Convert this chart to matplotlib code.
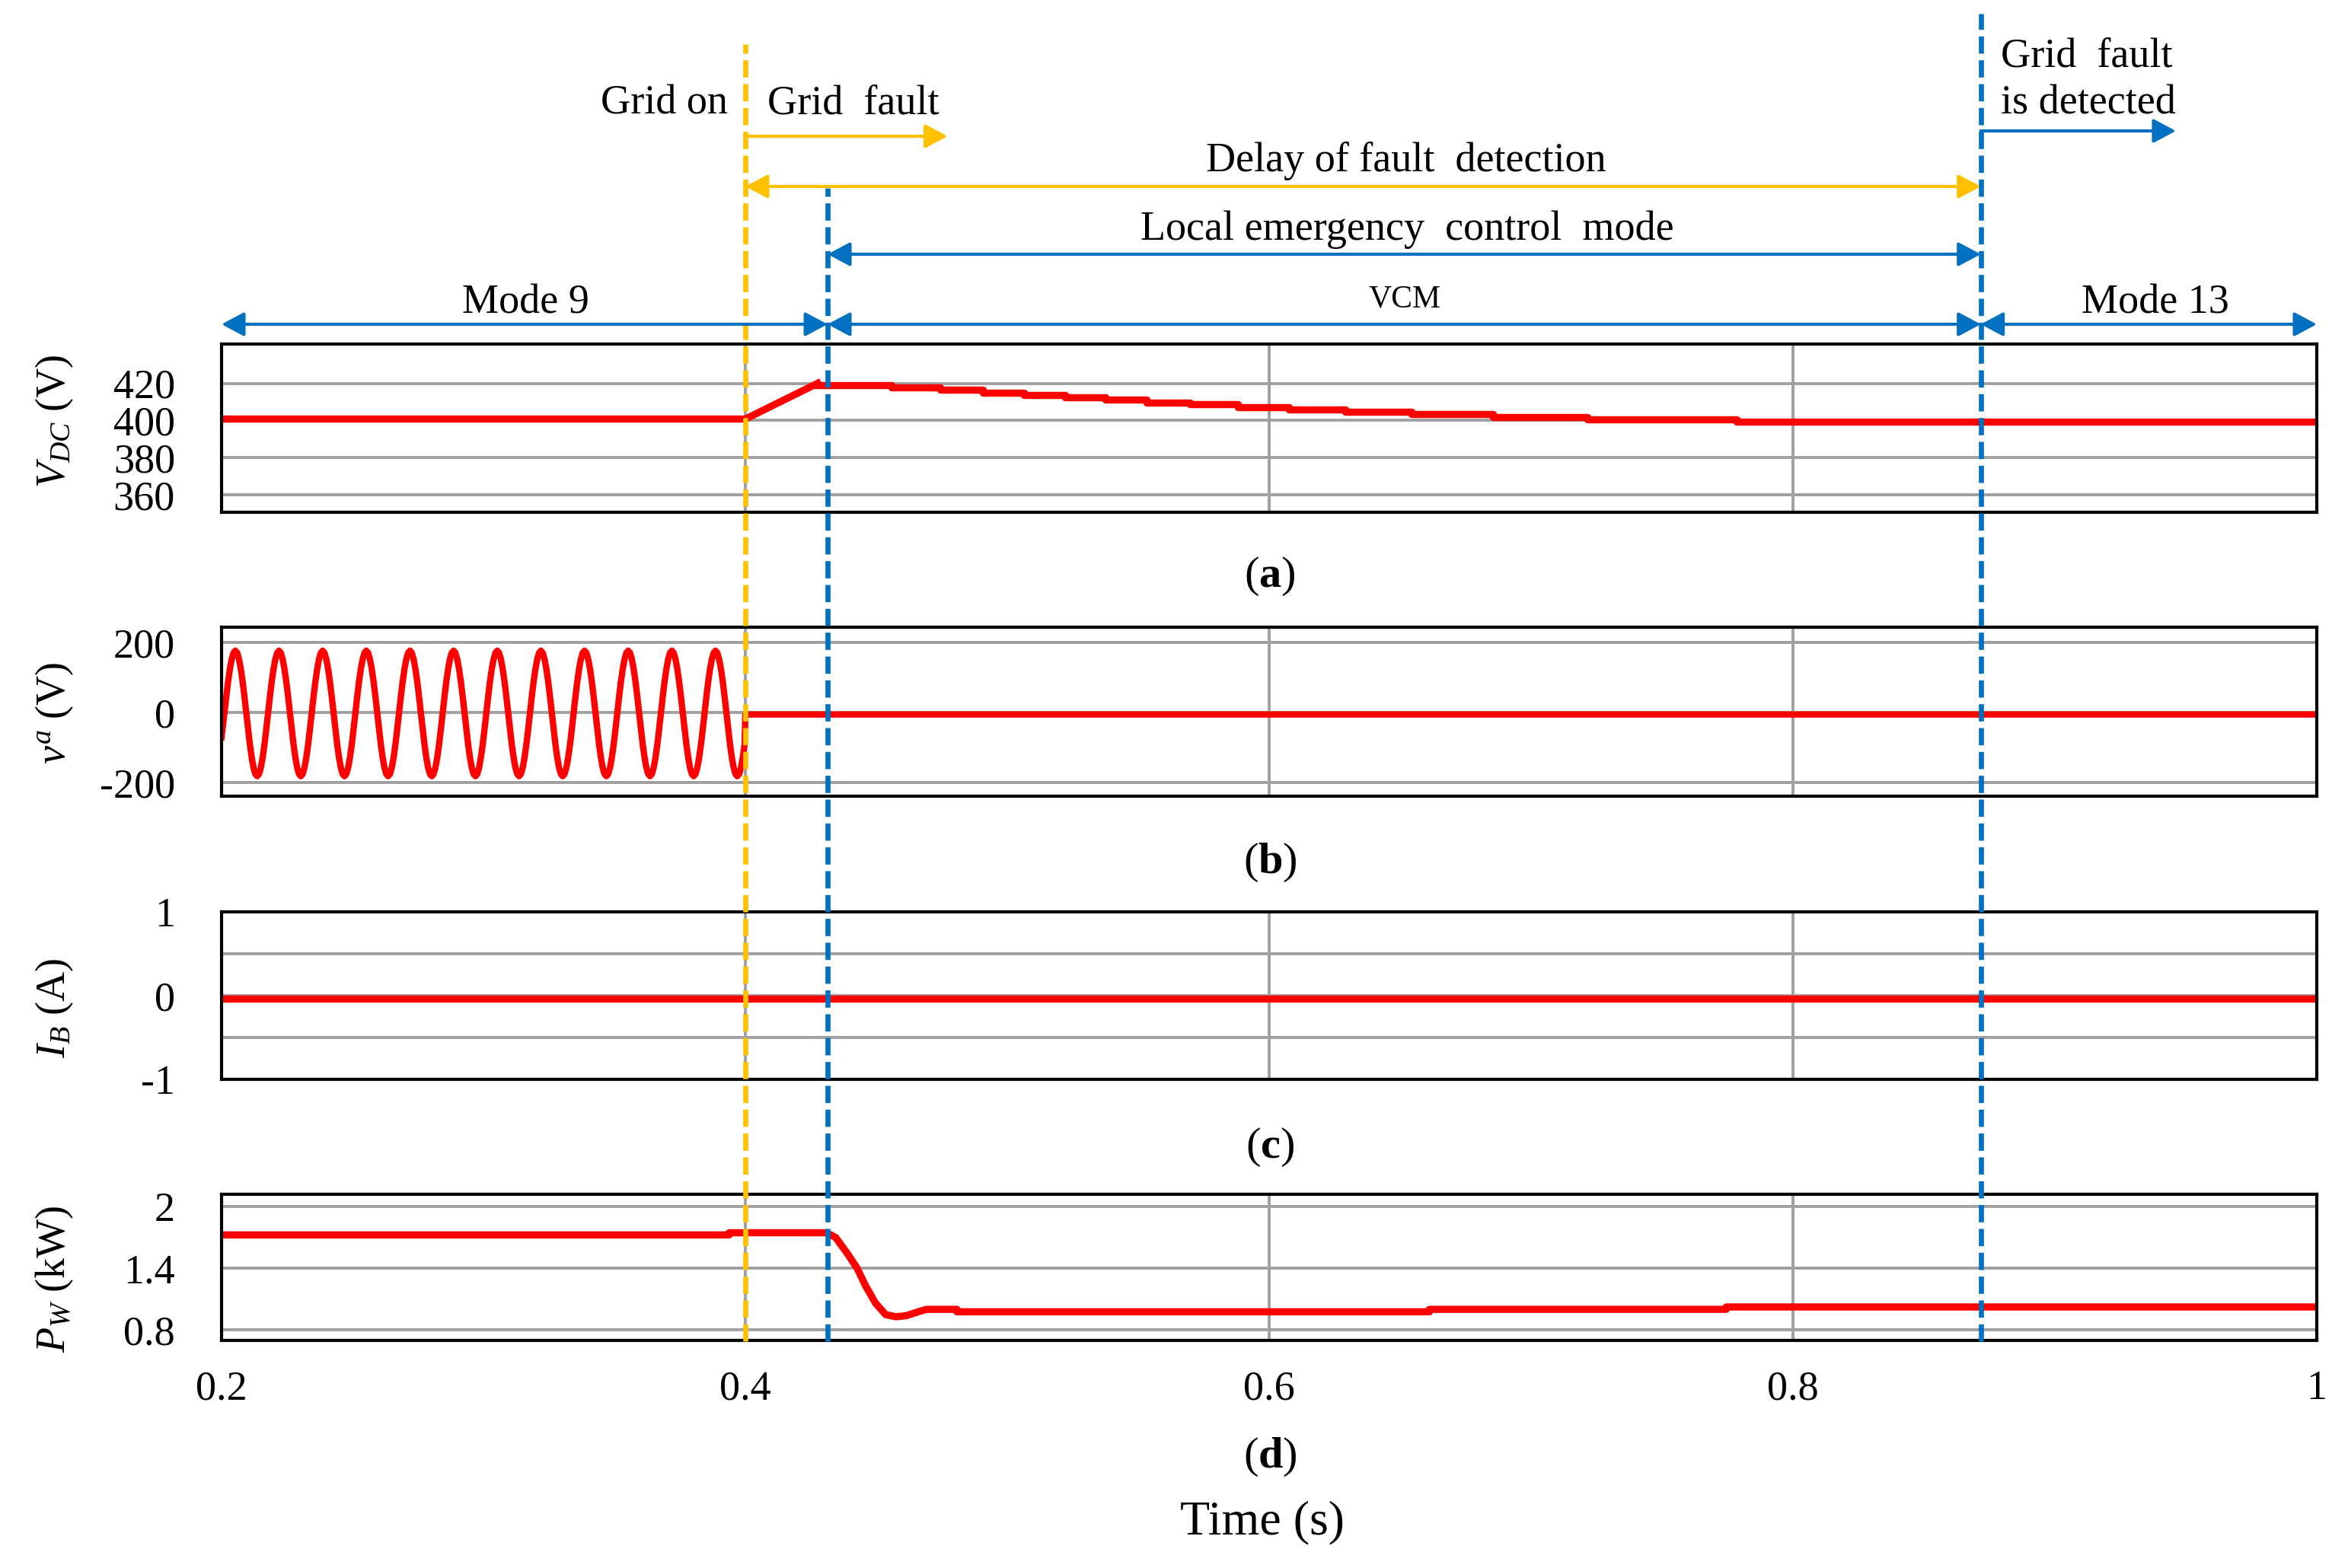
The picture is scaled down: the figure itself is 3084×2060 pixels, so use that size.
import numpy as np
import matplotlib
matplotlib.use("Agg")
import matplotlib.pyplot as plt

plt.rcParams["font.family"] = "Liberation Serif"
plt.rcParams["mathtext.fontset"] = "custom"
plt.rcParams["mathtext.rm"] = "Liberation Serif"
plt.rcParams["mathtext.it"] = "Liberation Serif:italic"
plt.rcParams["mathtext.bf"] = "Liberation Serif:bold"
plt.rcParams["axes.unicode_minus"] = False

# event times (s)
t_grid_fault = 0.4
t_local_mode = 0.4314
t_detected = 0.8717

# (a) DC-link voltage: ramp then staircase decay
vdc_ramp_t = [0.2, 0.4, 0.4276]
vdc_ramp_v = [400.8, 400.8, 420.0]
vdc_step_t = [0.4276, 0.4558, 0.4743, 0.4908, 0.5064, 0.5220, 0.5376, 0.5531,
              0.5697, 0.5882, 0.6077, 0.6291, 0.6544, 0.6855, 0.7214, 0.7784, 1.0]
vdc_step_v = [419.0, 417.7, 416.5, 415.1, 413.7, 412.5, 411.2, 409.8,
              408.6, 407.2, 406.0, 404.8, 403.4, 402.0, 400.7, 399.3, 399.3]

# (b) grid voltage: one 60 Hz cycle (15 deg steps), repeated
va_cycle = [0, 46, 89, 125, 153, 171, 177, 171, 153, 125, 89, 46,
            0, -47, -91, -128, -157, -175, -181, -175, -157, -128, -91, -47]
va_period = 1 / 60
va_start = 0.2011
va_cycles = 12
va_first_t, va_first_v = 0.2, -70
va_after_t = [0.4, 1.0]
va_after_v = [-5, -5]

# (c) battery current
ib_t = [0.2, 1.0]
ib_v = [-0.04, -0.04]

# (d) wind power
pw_t = [0.2, 0.3938, 0.3938, 0.431, 0.4345, 0.4393, 0.4427, 0.4458, 0.4497,
        0.4536, 0.4575, 0.4614, 0.4666, 0.4692, 0.4808, 0.4808, 0.6612, 0.6612,
        0.7745, 0.7745, 1.0]
pw_v = [1.725, 1.725, 1.746, 1.746, 1.70, 1.531, 1.40, 1.235, 1.062,
        0.95, 0.93, 0.94, 0.983, 1.002, 1.002, 0.978, 0.978, 1.002,
        1.002, 1.025, 1.025]

xticks = [0.2, 0.4, 0.6, 0.8, 1.0]
xticklabels = ["0.2", "0.4", "0.6", "0.8", "1"]

W, H = 3084, 2060
fig = plt.figure(figsize=(W / 200, H / 200), dpi=200)

left, right = 291 / W, 3043 / W
# panel top/bottom in pixels
boxes = [(452, 673), (824, 1046), (1198, 1418), (1569, 1761)]
axes = []
for top, bot in boxes:
    ax = fig.add_axes([left, 1 - bot / H, right - left, (bot - top) / H])
    axes.append(ax)

red = "#FF0000"
grid_c = "#A0A0A0"
fs = 19.5
lw_red = 3.4

for i, ax in enumerate(axes):
    ax.set_xlim(0.2, 1.0)
    ax.set_xticks(xticks)
    ax.grid(True, color=grid_c, lw=1.4, zorder=0)
    ax.set_axisbelow(True)
    for s in ax.spines.values():
        s.set_linewidth(1.5)
        s.set_color("black")
    ax.tick_params(length=0, labelsize=fs)
    ax.tick_params(axis="y", pad=22)
    ax.tick_params(axis="x", pad=14)
    if i < 3:
        ax.set_xticklabels([])
    else:
        ax.set_xticklabels(xticklabels)

# (a)
ax = axes[0]
ax.plot(vdc_ramp_t, vdc_ramp_v, color=red, lw=lw_red)
ax.step(vdc_step_t, vdc_step_v, where="post", color=red, lw=lw_red)
ax.set_ylim(350.7, 441.1)
ax.set_yticks([360, 380, 400, 420])

# (b)
ax = axes[1]
n = va_cycles * len(va_cycle) + 1
t_s = va_start + np.arange(n) * va_period / len(va_cycle)
v_s = np.array(va_cycle * va_cycles + [va_cycle[0]], dtype=float)
keep = t_s < va_after_t[0]
va_t = np.concatenate([[va_first_t], t_s[keep], va_after_t])
va_v = np.concatenate([[va_first_v], v_s[keep], va_after_v])
ax.plot(va_t, va_v, color=red, lw=3.0)
ax.set_ylim(-238, 244)
ax.set_yticks([-200, 0, 200])

# (c)
ax = axes[2]
ax.plot(ib_t, ib_v, color=red, lw=lw_red)
ax.set_ylim(-1, 1)
ax.set_yticks([-1, -0.5, 0, 0.5, 1])
ax.set_yticklabels(["-1", "", "0", "", "1"])

# (d)
ax = axes[3]
ax.plot(pw_t, pw_v, color=red, lw=lw_red)
ax.set_ylim(0.70, 2.12)
ax.set_yticks([0.8, 1.4, 2.0])
ax.set_yticklabels(["0.8", "1.4", "2"])

# y labels
ylabels = [r"$V_{DC}$ (V)", r"$v^{a}$ (V)", r"$I_{B}$ (A)", r"$P_{W}$ (kW)"]
ylab_y = [553, 937, 1325, 1680]
for lab, yy in zip(ylabels, ylab_y):
    fig.text(72 / W, 1 - yy / H, lab, rotation=90, ha="center", va="center", fontsize=fs)

# panel captions
for lab, yy in zip("abcd", [757, 1133, 1507, 1914]):
    fig.text(1668 / W, 1 - yy / H, "(" + r"$\mathbf{" + lab + "}$" + ")",
             ha="center", va="center", fontsize=21)
fig.text(1658 / W, 1 - 2000 / H, "Time (s)", ha="center", va="center", fontsize=23)

# overlay for event lines and annotations
ov = fig.add_axes([left, 0, right - left, 1], zorder=10)
ov.set_xlim(0.2, 1.0)
ov.set_ylim(0, 1)
ov.axis("off")
ov.patch.set_alpha(0)

yellow = "#FFC000"
blue = "#0070C0"
y_bot = 1 - 1762 / H

ov.plot([t_grid_fault, t_grid_fault], [y_bot, 1 - 58 / H], color=yellow, lw=2.4,
        dashes=(3.4, 1.3))
ov.plot([t_local_mode, t_local_mode], [y_bot, 1 - 247 / H], color=blue, lw=2.4,
        dashes=(3.4, 1.3))
ov.plot([t_detected, t_detected], [y_bot, 1 - 18 / H], color=blue, lw=2.4,
        dashes=(3.4, 1.3))


def arrow(x0, x1, y, color, style="<|-|>"):
    ov.annotate("", xy=(x1, y), xytext=(x0, y),
                arrowprops=dict(arrowstyle=style + ",head_length=0.45,head_width=0.24",
                                color=color, lw=1.5, mutation_scale=20,
                                shrinkA=0, shrinkB=0))


y_mode = 1 - 426 / H
arrow(0.2, t_local_mode, y_mode, blue)
arrow(t_local_mode, t_detected, y_mode, blue)
arrow(t_detected, 1.0, y_mode, blue)
arrow(t_local_mode, t_detected, 1 - 334 / H, blue)
arrow(t_grid_fault, t_detected, 1 - 245 / H, yellow)
arrow(t_grid_fault, 0.4772, 1 - 179 / H, yellow, style="-|>")
arrow(t_detected, 0.9462, 1 - 172 / H, blue, style="-|>")

ov.text(0.316, 1 - 412 / H, "Mode 9", ha="center", va="baseline", fontsize=fs)
ov.text(0.6517, 1 - 403 / H, "VCM", ha="center", va="baseline", fontsize=15)
ov.text(0.9384, 1 - 412 / H, "Mode 13", ha="center", va="baseline", fontsize=fs)
ov.text(0.6526, 1 - 315 / H, "Local emergency  control  mode", ha="center",
        va="baseline", fontsize=fs)
ov.text(0.6523, 1 - 225 / H, "Delay of fault  detection", ha="center",
        va="baseline", fontsize=fs)
ov.text(0.3933, 1 - 150 / H, "Grid on", ha="right", va="baseline", fontsize=fs)
ov.text(0.4085, 1 - 150 / H, "Grid  fault", ha="left", va="baseline", fontsize=fs)
ov.text(0.8793, 1 - 87 / H, "Grid  fault", ha="left", va="baseline", fontsize=fs)
ov.text(0.8793, 1 - 150 / H, "is detected", ha="left", va="baseline", fontsize=fs)

fig.savefig("out.png", dpi=200, facecolor="white")
